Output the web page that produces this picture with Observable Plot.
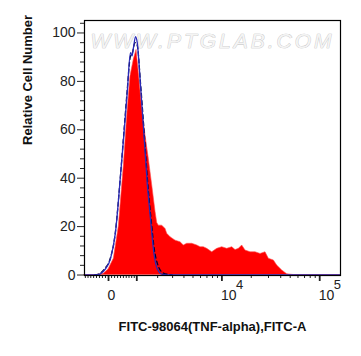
<!DOCTYPE html>
<html>
<head>
<meta charset="utf-8">
<script src="https://cdn.jsdelivr.net/npm/d3@7"></script>
<script src="https://cdn.jsdelivr.net/npm/@observablehq/plot@0.6"></script>
<style>
  html, body { margin: 0; padding: 0; background: #fff; }
</style>
</head>
<body>
<div id="chart"></div>
<script>
// Display axis: arcsinh ("biexponential") decades, u = asinh(v / C) / ln10
const C = 1400;
const toU = v => Math.asinh(v / C) / Math.LN10;

// Sample histogram (red, filled) — x in display decades, y = relative cell number
const redX = [-0.245, -0.122, -0.048, 0, 0.054, 0.105, 0.156, 0.191, 0.224, 0.258, 0.286, 0.309, 0.344, 0.378, 0.411, 0.446, 0.48, 0.497, 0.513, 0.548, 0.582, 0.599, 0.633, 0.684, 0.735, 0.768, 0.803, 0.854, 0.905, 0.939, 0.972, 1.007, 1.058, 1.109, 1.16, 1.211, 1.262, 1.296, 1.33, 1.364, 1.398, 1.449, 1.5, 1.551, 1.602, 1.636, 1.687, 1.721, 1.772, 1.823, 1.891, 2.367];
const redY = [0, 0, 0.5, 2.3, 6.7, 20, 45, 66, 82, 89, 93, 83.6, 68.5, 57.5, 48, 37, 26, 21.5, 20.4, 20.4, 19, 17, 15.6, 14.2, 13.5, 12.2, 12.9, 12.9, 12.2, 11.5, 11.5, 10.8, 9.4, 10.8, 11.5, 10.8, 11.5, 10.3, 10.8, 12.2, 10.1, 9.4, 9.4, 8.7, 9.4, 6.7, 6, 3.9, 1.9, 0.3, 0, 0];

// Control histogram (blue, solid line)
const blueX = [-0.245, -0.133, -0.082, -0.031, 0.02, 0.071, 0.122, 0.156, 0.191, 0.224, 0.24, 0.255, 0.276, 0.293, 0.327, 0.36, 0.395, 0.429, 0.462, 0.497, 0.548, 0.633, 2.367];
const blueY = [0, 0, 0.5, 2.5, 6.7, 17.6, 41, 57.5, 75.4, 91.9, 90.5, 94, 98.5, 96, 78, 59, 38, 23, 9.4, 2.6, 0.3, 0, 0];

// Second control (dark, dashed line)
const dashX = [-0.14, -0.09, -0.04, 0.015, 0.068, 0.12, 0.155, 0.19, 0.222, 0.245, 0.27, 0.292, 0.327, 0.362, 0.398, 0.432, 0.466, 0.505, 0.56, 0.65];
const dashY = [0, 0.6, 2.6, 6.5, 17, 40, 58, 76, 90, 92, 96, 95, 79, 60, 39, 24, 11, 4, 0.8, 0];

// Axis ticks
const yMajor = [0, 20, 40, 60, 80, 100];
const yMinor = [4, 8, 12, 16, 24, 28, 32, 36, 44, 48, 52, 56, 64, 68, 72, 76, 84, 88, 92, 96, 104];
const xMajor = [0, 1000, 10000, 100000];
const xMinor = [-800, -700, -600, -500, -400, -300, -200, -100, 100, 200, 300, 400, 500, 600, 700, 800, 900,
  2000, 3000, 4000, 5000, 6000, 7000, 8000, 9000, 20000, 30000, 40000, 50000, 60000, 70000, 80000, 90000];
const xLabels = [{v: 0, base: "0", sup: ""}, {v: 10000, base: "10", sup: "4"}, {v: 100000, base: "10", sup: "5"}];

const watermark = "WWW.PTGLAB.COM";
const yTitle = "Relative Cell Number";
const xTitle = "FITC-98064(TNF-alpha),FITC-A";

const xDomain = [-0.245, 2.367];
const inX = u => u >= xDomain[0] && u <= xDomain[1];

const chart = Plot.plot({
  width: 361,
  height: 356,
  marginLeft: 84,
  marginRight: 21,
  marginTop: 20,
  marginBottom: 81,
  style: {fontFamily: "'Liberation Sans', Arial, sans-serif", background: "white", color: "#222", overflow: "visible"},
  x: {domain: xDomain, label: null},
  y: {domain: [-0.2, 105.15], label: null},
  marks: [
    Plot.text([watermark], {frameAnchor: "top", dy: 13, fontSize: 21, fontStyle: "italic", fill: "#f4f4f4", stroke: "#bdbdbd", strokeWidth: 0.7}),
    Plot.areaY(redX.map((x, i) => ({x, y: redY[i]})), {x: "x", y: "y", fill: "#ff0000", stroke: "#ff5050", strokeWidth: 0.6, curve: "linear"}),
    Plot.lineY(dashX.map((x, i) => ({x, y: dashY[i]})), {x: "x", y: "y", stroke: "#000033", strokeWidth: 1.3, strokeDasharray: "4,3", curve: "monotone-x"}),
    Plot.lineY(blueX.map((x, i) => ({x, y: blueY[i]})), {x: "x", y: "y", stroke: "#2a2ab8", strokeWidth: 1.3, curve: "monotone-x"}),
    Plot.axisY({ticks: yMajor, tickSize: 7, tickPadding: 2, fontSize: 14, label: null}),
    Plot.axisY({ticks: yMinor, tickSize: 4, tickFormat: () => "", label: null}),
    Plot.axisX({ticks: xMajor.map(toU).filter(inX), tickSize: 6, strokeWidth: 1.8, tickFormat: () => "", label: null}),
    Plot.axisX({ticks: xMinor.map(toU).filter(inX), tickSize: 3, tickFormat: () => "", label: null}),
    Plot.text(xLabels, {x: d => toU(d.v), text: "base", frameAnchor: "bottom", dy: 24, dx: -1, textAnchor: "start", fontSize: 14}),
    Plot.text(xLabels, {x: d => toU(d.v), text: "sup", frameAnchor: "bottom", dy: 13, dx: 14, textAnchor: "start", fontSize: 13}),
    Plot.text([yTitle], {frameAnchor: "left", dx: -57, dy: -3, rotate: -90, fontSize: 13, fontWeight: "bold", fill: "#111"}),
    Plot.text([xTitle], {frameAnchor: "bottom", dy: 55, fontSize: 13, fontWeight: "bold", fill: "#111"}),
    Plot.frame({stroke: "#000", strokeWidth: 1.2})
  ]
});

d3.select(chart).selectAll("text").filter(function() { return this.textContent === watermark; })
  .attr("letter-spacing", 3);

document.getElementById("chart").appendChild(chart);
</script>
</body>
</html>
